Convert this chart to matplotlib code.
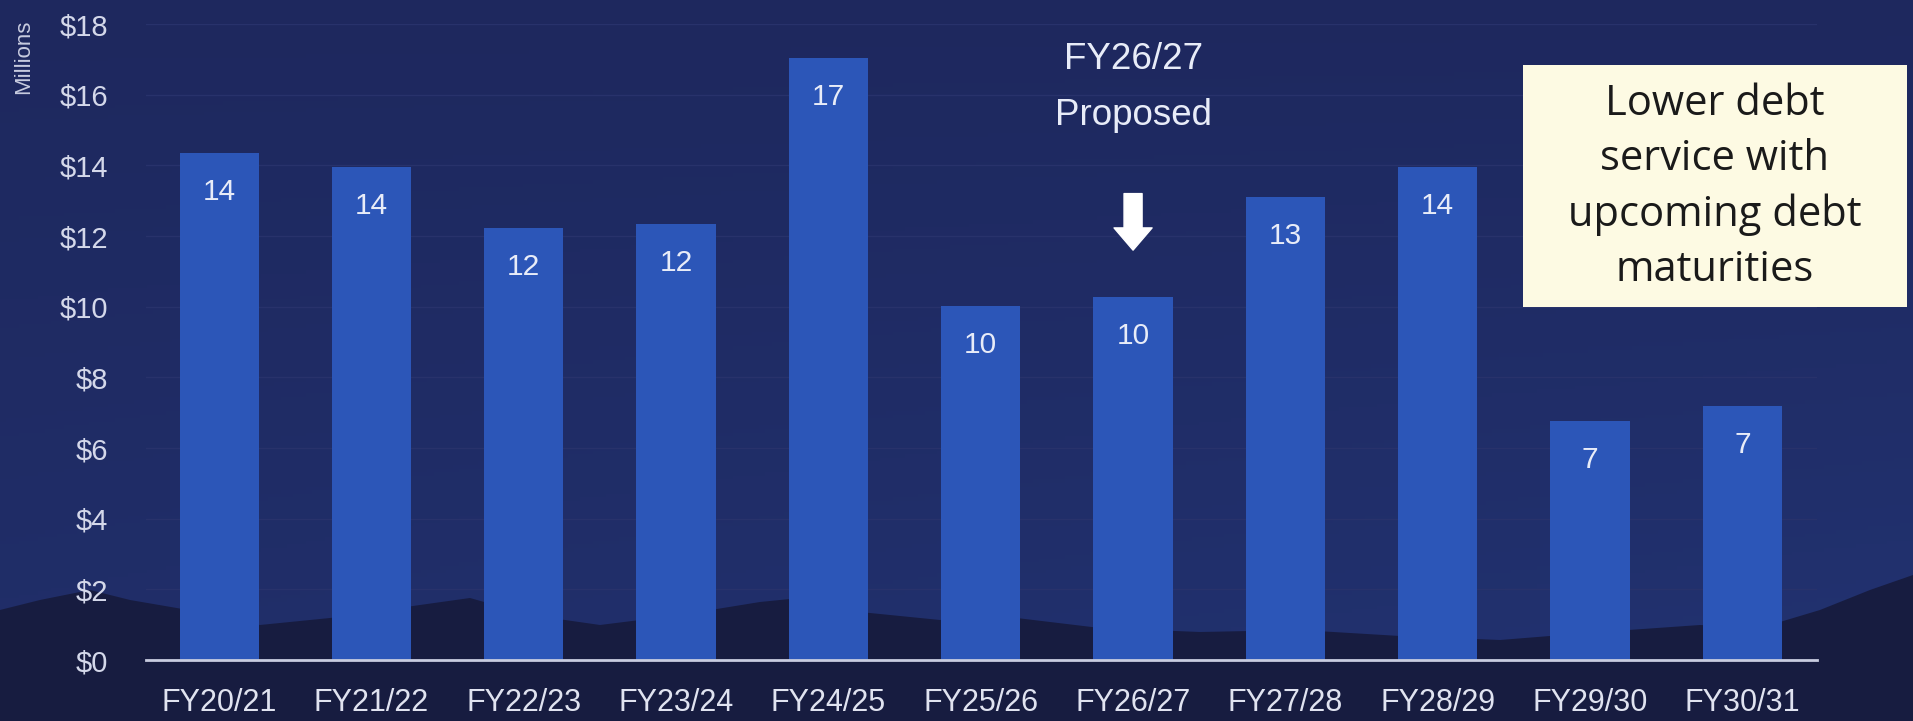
import matplotlib
matplotlib.use("Agg")
import matplotlib.pyplot as plt
import numpy as np
from matplotlib.patches import Polygon, Rectangle

categories = ["FY20/21", "FY21/22", "FY22/23", "FY23/24", "FY24/25", "FY25/26",
              "FY26/27", "FY27/28", "FY28/29", "FY29/30", "FY30/31"]
values = [14.34, 13.96, 12.23, 12.33, 17.03, 10.02, 10.26, 13.09, 13.96, 6.77, 7.19]
bar_labels = ["14", "14", "12", "12", "17", "10", "10", "13", "14", "7", "7"]
yticks = [0, 2, 4, 6, 8, 10, 12, 14, 16, 18]
ytick_labels = ["$0", "$2", "$4", "$6", "$8", "$10", "$12", "$14", "$16", "$18"]
highlight = "FY26/27"
note_text = "Lower debt\nservice with\nupcoming debt\nmaturities"

W, H = 1913, 721
plt.rcParams['font.family'] = ['Liberation Sans', 'DejaVu Sans']
fig = plt.figure(figsize=(W / 100, H / 100), dpi=100)

# background gradient + silhouette
bg = fig.add_axes([0, 0, 1, 1], zorder=0)
bg.set_xlim(0, W)
bg.set_ylim(H, 0)
bg.axis("off")
yy, xx = np.mgrid[0:1:200j, 0:1:300j]
top = np.array([0x1e, 0x28, 0x5e]) / 255
bot = np.array([0x22, 0x33, 0x72]) / 255
t = (0.6 * yy + 0.4 * xx * yy)[..., None]
img = top * (1 - t) + bot * t
bg.imshow(img, extent=[0, W, H, 0], aspect="auto", zorder=0)
mx = [0, 40, 90, 130, 200, 260, 330, 420, 470, 530, 600, 680, 760, 800, 860, 940, 1000,
      1100, 1200, 1300, 1400, 1500, 1600, 1700, 1760, 1820, 1870, 1913, 1913, 0]
my = [610, 600, 590, 600, 612, 625, 618, 605, 598, 615, 625, 615, 602, 598, 612, 620, 616,
      628, 632, 630, 636, 640, 632, 625, 628, 610, 590, 575, H, H]
bg.add_patch(Polygon(np.column_stack([mx, my]), closed=True, facecolor="#171c40",
                     edgecolor="none", zorder=1))

ax = fig.add_axes([146 / W, 1 - 660 / H, (1817 - 146) / W, (660 - 24) / H], zorder=1)
ax.set_facecolor("none")
x = np.arange(len(categories))
ax.bar(x, values, width=0.52, color="#2c56b8", zorder=2)
ax.set_xlim(-0.48, len(categories) - 1 + 0.49)
ax.set_ylim(0, 18)
ax.set_yticks(yticks)
ax.set_yticklabels(ytick_labels)
ax.set_xticks(x)
ax.set_xticklabels(categories)
ax.tick_params(axis="y", length=0, pad=27, labelsize=21, labelcolor="#d4d8ea")
ax.tick_params(axis="x", length=0, pad=20, labelsize=22, labelcolor="#e0e3f0")
for s in ["top", "right", "left"]:
    ax.spines[s].set_visible(False)
ax.spines["bottom"].set_color("#c8cce0")
ax.spines["bottom"].set_linewidth(2)
ax.grid(axis="y", color="#28326b", linewidth=1, zorder=0)
ax.set_axisbelow(True)

for xi, v, lab in zip(x, values, bar_labels):
    ax.text(xi, v - 1.1, lab, ha="center", va="center", color="#e8ecf8",
            fontsize=21.5, zorder=3)

hi = categories.index(highlight)
ax.text(hi, 16.2, highlight + "\nProposed", ha="center", va="center", color="#e8ecf8",
        fontsize=26.5, linespacing=1.8, zorder=3)
ax.annotate("", xy=(hi, 11.6), xytext=(hi, 13.2),
            arrowprops=dict(arrowstyle="simple,head_width=1.37,head_length=0.8,tail_width=0.65",
                            mutation_scale=20, facecolor="white", edgecolor="white",
                            shrinkA=0, shrinkB=0), zorder=3)

fig.text(24 / W, 1 - 57 / H, "Millions", rotation=90, ha="center", va="center",
         color="#c8cce0", fontsize=16)

# note box on top of everything
ov = fig.add_axes([0, 0, 1, 1], zorder=3)
ov.set_xlim(0, W)
ov.set_ylim(H, 0)
ov.axis("off")
ov.patch.set_alpha(0)
ov.add_patch(Rectangle((1523, 65), 1907 - 1523, 307 - 65, facecolor="#fdfae3",
                       edgecolor="none"))
ov.text(1715, 187, note_text, ha="center", va="center",
        fontsize=30, color="#1a1a1a", linespacing=1.4,
        family=["Open Sans", "DejaVu Sans"])

fig.savefig("out.png", dpi=100, facecolor="#1e2a5f")
